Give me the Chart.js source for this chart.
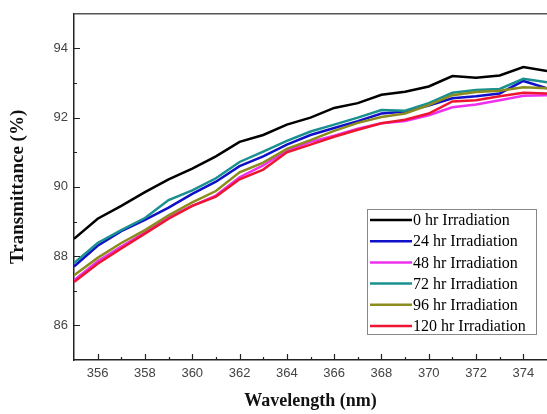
<!DOCTYPE html>
<html>
<head>
<meta charset="utf-8">
<script src="https://cdn.jsdelivr.net/npm/chart.js@4.4.0/dist/chart.umd.min.js"></script>
<style>
html,body{margin:0;padding:0;background:#fff;}
#wrap{width:547px;height:414px;position:relative;}
</style>
</head>
<body>
<div id="wrap"><canvas id="c" width="547" height="414"></canvas></div>
<script>
const wavelengths = [355,356,357,358,359,360,361,362,363,364,365,366,367,368,369,370,371,372,373,374,375];
const hr0   = [88.50,89.08,89.45,89.85,90.22,90.53,90.88,91.30,91.50,91.80,92.00,92.28,92.42,92.66,92.75,92.90,93.20,93.15,93.22,93.46,93.35];
const hr24  = [87.70,88.30,88.72,89.05,89.40,89.80,90.15,90.60,90.88,91.22,91.50,91.70,91.90,92.12,92.18,92.35,92.56,92.62,92.70,93.06,92.85];
const hr48  = [87.30,87.85,88.28,88.68,89.12,89.45,89.75,90.28,90.62,91.05,91.30,91.48,91.68,91.84,91.90,92.07,92.30,92.38,92.50,92.63,92.65];
const hr72  = [87.80,88.38,88.75,89.10,89.62,89.90,90.25,90.72,91.02,91.33,91.60,91.80,92.00,92.22,92.20,92.42,92.72,92.80,92.83,93.12,93.02];
const hr96  = [87.45,87.95,88.38,88.75,89.18,89.55,89.88,90.42,90.70,91.10,91.35,91.62,91.85,92.02,92.12,92.36,92.65,92.74,92.78,92.88,92.85];
const hr120 = [87.25,87.78,88.22,88.65,89.08,89.45,89.72,90.22,90.50,91.00,91.22,91.45,91.65,91.84,91.94,92.12,92.47,92.50,92.62,92.72,92.70];

const seriesLabels = ['0 hr Irradiation','24 hr Irradiation','48 hr Irradiation','72 hr Irradiation','96 hr Irradiation','120 hr Irradiation'];
const seriesValues = [hr0, hr24, hr48, hr72, hr96, hr120];
const seriesColors = ['#000000','#1010c8','#ee30ee','#1a9090','#8c8c1c','#ee1530'];

const xTicks = [356,358,360,362,364,366,368,370,372,374];
const xMinorTicks = [357,359,361,363,365,367,369,371,373];
const yTicks = [86,88,90,92,94];
const yMinorTicks = [87,89,91,93];

const datasets = seriesValues.map((vals, i) => ({
  label: seriesLabels[i],
  data: wavelengths.map((w, j) => ({x: w, y: vals[j]})),
  borderColor: seriesColors[i],
  backgroundColor: seriesColors[i],
  borderWidth: 2.5,
  pointRadius: 0,
  tension: 0,
  fill: false
}));
datasets.reverse();

const tickFont = {family: 'Liberation Sans, Arial, sans-serif', size: 13};

const decor = {
  id: 'decor',
  afterDraw(chart) {
    const ctx = chart.ctx;
    const ca = chart.chartArea;
    const xs = chart.scales.x, ys = chart.scales.y;
    ctx.save();
    ctx.strokeStyle = '#555';
    ctx.lineWidth = 1.5;
    ctx.beginPath();
    ctx.moveTo(ca.left, ca.top);
    ctx.lineTo(ca.right + 2, ca.top);
    ctx.stroke();
    ctx.strokeStyle = '#222';
    ctx.lineWidth = 1.2;
    ctx.beginPath();
    xTicks.forEach(v => { const p = Math.round(xs.getPixelForValue(v)) + 0.5; ctx.moveTo(p, ca.bottom); ctx.lineTo(p, ca.bottom - 6); });
    xMinorTicks.forEach(v => { const p = Math.round(xs.getPixelForValue(v)) + 0.5; ctx.moveTo(p, ca.bottom); ctx.lineTo(p, ca.bottom - 3); });
    yTicks.forEach(v => { const p = Math.round(ys.getPixelForValue(v)) + 0.5; ctx.moveTo(ca.left, p); ctx.lineTo(ca.left + 6, p); });
    yMinorTicks.forEach(v => { const p = Math.round(ys.getPixelForValue(v)) + 0.5; ctx.moveTo(ca.left, p); ctx.lineTo(ca.left + 3, p); });
    ctx.stroke();
    // legend
    const lx = 367.5, ly = 209.5, lw = 169, lh = 125;
    ctx.fillStyle = '#fff';
    ctx.fillRect(lx, ly, lw, lh);
    ctx.strokeStyle = '#888';
    ctx.lineWidth = 1;
    ctx.strokeRect(lx, ly, lw, lh);
    ctx.font = '16px "Liberation Serif", "Times New Roman", serif';
    ctx.textBaseline = 'middle';
    ctx.textAlign = 'left';
    seriesLabels.forEach((lab, i) => {
      const cy = 220 + i * 21.2;
      ctx.strokeStyle = seriesColors[i];
      ctx.lineWidth = 2.5;
      ctx.beginPath();
      ctx.moveTo(370, cy);
      ctx.lineTo(412, cy);
      ctx.stroke();
      ctx.fillStyle = '#000';
      ctx.fillText(lab, 413, cy + 1);
    });
    ctx.restore();
  }
};

new Chart(document.getElementById('c'), {
  type: 'line',
  data: {datasets},
  options: {
    responsive: false,
    animation: false,
    layout: {padding: {top: 9, right: 0, left: 0, bottom: 0}},
    plugins: {legend: {display: false}, tooltip: {enabled: false}},
    scales: {
      x: {
        type: 'linear',
        min: 355, max: 375,
        afterBuildTicks: s => { s.ticks = xTicks.map(v => ({value: v})); },
        afterFit: s => { s.height = 54; },
        grid: {display: false, drawTicks: false},
        border: {display: true, color: '#222', width: 1.5},
        ticks: {font: tickFont, color: '#444', padding: 6, maxRotation: 0, autoSkip: false},
        title: {display: true, text: 'Wavelength (nm)', font: {family: 'Liberation Serif, Times New Roman, serif', size: 18, weight: 'bold'}, color: '#111', padding: {top: 0, bottom: 2}}
      },
      y: {
        min: 85, max: 95,
        afterBuildTicks: s => { s.ticks = yTicks.map(v => ({value: v})); },
        afterFit: s => { s.width = 74; },
        grid: {display: false, drawTicks: false},
        border: {display: true, color: '#222', width: 1.5},
        ticks: {font: tickFont, color: '#444', padding: 6},
        title: {display: true, text: 'Transmittance (%)', font: {family: 'Liberation Serif, Times New Roman, serif', size: 19, weight: 'bold'}, color: '#111', padding: {top: 7, bottom: 0}}
      }
    }
  },
  plugins: [decor]
});
</script>
</body>
</html>
